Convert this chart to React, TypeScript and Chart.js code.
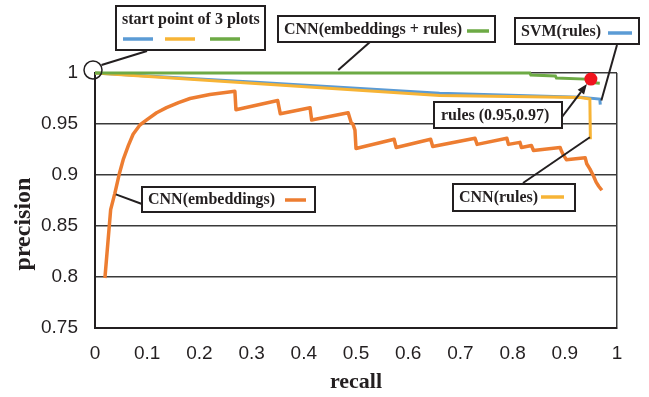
import React, { useEffect, useRef } from "react";
import { Chart, registerables } from "chart.js";

Chart.register(...registerables);

// ---- data ----
const xTickValues = [0, 0.1, 0.2, 0.3, 0.4, 0.5, 0.6, 0.7, 0.8, 0.9, 1];
const xTickLabels = ["0", "0.1", "0.2", "0.3", "0.4", "0.5", "0.6", "0.7", "0.8", "0.9", "1"];
const yTickValues = [0.75, 0.8, 0.85, 0.9, 0.95, 1];
const yTickLabels = ["0.75", "0.8", "0.85", "0.9", "0.95", "1"];

const cnnEmbRecall = [
  0.019, 0.030, 0.038, 0.047, 0.054, 0.064, 0.073, 0.086, 0.099, 0.118,
  0.137, 0.160, 0.182, 0.220, 0.268,
  0.270, 0.350, 0.355, 0.412, 0.415, 0.485, 0.491, 0.494, 0.498, 0.500,
  0.573, 0.577, 0.643, 0.647, 0.728, 0.732, 0.789, 0.792, 0.814, 0.817,
  0.836, 0.840, 0.891, 0.894, 0.897, 0.903, 0.939, 0.942, 0.948, 0.955,
  0.960, 0.965, 0.971,
];
const cnnEmbPrecision = [
  0.799, 0.866, 0.882, 0.902, 0.915, 0.929, 0.940, 0.949, 0.954, 0.961,
  0.966, 0.971, 0.975, 0.979, 0.982,
  0.964, 0.973, 0.960, 0.966, 0.954, 0.961, 0.951, 0.950, 0.944, 0.926,
  0.935, 0.927, 0.935, 0.928, 0.936, 0.930, 0.936, 0.930, 0.932, 0.927,
  0.929, 0.924, 0.927, 0.923, 0.920, 0.915, 0.917, 0.911, 0.906, 0.899,
  0.893, 0.889, 0.885,
];

const cnnEmbRulesRecall = [0, 0.833, 0.835, 0.882, 0.884, 0.94, 0.943, 0.967];
const cnnEmbRulesPrecision = [1, 1, 0.998, 0.997, 0.995, 0.994, 0.991, 0.99];

const svmRulesRecall = [0, 0.3, 0.66, 0.93, 0.967, 0.968];
const svmRulesPrecision = [1, 0.9912, 0.9802, 0.9762, 0.9745, 0.969];

const cnnRulesRecall = [0, 0.3, 0.66, 0.93, 0.948, 0.949];
const cnnRulesPrecision = [1, 0.99, 0.978, 0.976, 0.9745, 0.935];

const rulesPointRecall = [0.95];
const rulesPointPrecision = [0.994];

// ---- styles ----
const C_ORANGE = "#ED7D31";
const C_YELLOW = "#F7B436";
const C_GREEN = "#6DAA45";
const C_BLUE = "#5B9BD5";
const C_RED = "#F0141E";
const C_INK = "#231F20";
const C_GRID = "#3A3A3A";
const TICK_FONT = '"Liberation Sans Narrow", "Liberation Sans", Arial, sans-serif';
const SERIF = '"Liberation Serif", "Times New Roman", serif';

const pts = (xs: number[], ys: number[]) => xs.map((x, i) => ({ x, y: ys[i] }));

const annotations = {
  id: "annotations",
  afterDraw(chart: any) {
    const ctx = chart.ctx as CanvasRenderingContext2D;
    const xs = chart.scales.x;
    const ys = chart.scales.y;
    const X = (v: number) => xs.getPixelForValue(v);
    const Y = (v: number) => ys.getPixelForValue(v);

    const box = (x1: number, y1: number, x2: number, y2: number) => {
      ctx.save();
      ctx.fillStyle = "#ffffff";
      ctx.fillRect(x1, y1, x2 - x1, y2 - y1);
      ctx.lineWidth = 2;
      ctx.strokeStyle = C_INK;
      ctx.strokeRect(x1, y1, x2 - x1, y2 - y1);
      ctx.restore();
    };
    const text = (s: string, x: number, y: number) => {
      ctx.save();
      ctx.font = `bold 16px ${SERIF}`;
      ctx.fillStyle = C_INK;
      ctx.textAlign = "left";
      ctx.textBaseline = "middle";
      ctx.fillText(s, x, y);
      ctx.restore();
    };
    const seg = (x1: number, x2: number, y: number, color: string) => {
      ctx.save();
      ctx.strokeStyle = color;
      ctx.lineWidth = 3.5;
      ctx.beginPath();
      ctx.moveTo(x1, y);
      ctx.lineTo(x2, y);
      ctx.stroke();
      ctx.restore();
    };
    const line = (x1: number, y1: number, x2: number, y2: number) => {
      ctx.save();
      ctx.strokeStyle = C_INK;
      ctx.lineWidth = 2;
      ctx.beginPath();
      ctx.moveTo(x1, y1);
      ctx.lineTo(x2, y2);
      ctx.stroke();
      ctx.restore();
    };

    // y-axis title
    ctx.save();
    ctx.translate(24, 224);
    ctx.rotate(-Math.PI / 2);
    ctx.font = `bold 24px ${SERIF}`;
    ctx.fillStyle = C_INK;
    ctx.textAlign = "center";
    ctx.textBaseline = "middle";
    ctx.fillText("precision", 0, 0);
    ctx.restore();

    // start point circle + callout
    const ox = X(0);
    const oy = Y(1);
    ctx.save();
    ctx.strokeStyle = C_INK;
    ctx.lineWidth = 1.5;
    ctx.beginPath();
    ctx.arc(ox - 2, oy - 3, 9, 0, Math.PI * 2);
    ctx.stroke();
    ctx.restore();
    line(ox + 6.5, oy - 8, 147, 51);
    box(116, 6, 265, 50);
    text("start point of 3 plots", 122, 20);
    seg(123, 153, 39, C_BLUE);
    seg(165, 195, 39, C_YELLOW);
    seg(210, 240, 39, C_GREEN);

    // CNN(embeddings + rules)
    line(370, 42, X(0.466), Y(1) - 3);
    box(278, 16, 495, 42);
    text("CNN(embeddings + rules)", 284, 29.5);
    seg(467, 489, 31, C_GREEN);

    // SVM(rules)
    line(617, 45, X(0.97), Y(0.974) + 1);
    box(515, 18, 639, 44);
    text("SVM(rules)", 521, 31.5);
    seg(608, 632, 33, C_BLUE);

    // rules point arrow
    const tx = X(rulesPointRecall[0]) - 4;
    const ty = Y(rulesPointPrecision[0]) + 5;
    const sx = 562;
    const sy = 117;
    const ang = Math.atan2(ty - sy, tx - sx);
    const ah = 10;
    const hx = tx - ah * Math.cos(ang);
    const hy = ty - ah * Math.sin(ang);
    line(sx, sy, hx, hy);
    ctx.save();
    ctx.fillStyle = C_INK;
    ctx.beginPath();
    ctx.moveTo(tx, ty);
    ctx.lineTo(hx + 4 * Math.sin(ang), hy - 4 * Math.cos(ang));
    ctx.lineTo(hx - 4 * Math.sin(ang), hy + 4 * Math.cos(ang));
    ctx.closePath();
    ctx.fill();
    ctx.restore();
    box(434, 102, 562, 128);
    text("rules (0.95,0.97)", 441, 115.5);

    // CNN(rules)
    line(523, 183, X(0.948), Y(0.937));
    box(453, 184, 575, 211);
    text("CNN(rules)", 459, 197.5);
    seg(541, 564, 197, C_YELLOW);

    // CNN(embeddings)
    line(142, 204, X(0.038) + 1, Y(0.882) + 1);
    box(142, 187, 315, 212);
    text("CNN(embeddings)", 148, 199.5);
    seg(285, 306, 200, C_ORANGE);
  },
};

export default function App() {
  const ref = useRef<HTMLCanvasElement | null>(null);

  useEffect(() => {
    if (!ref.current) return;
    const chart = new Chart(ref.current, {
      type: "scatter",
      data: {
        datasets: [
          {
            label: "rules",
            data: pts(rulesPointRecall, rulesPointPrecision),
            showLine: false,
            pointRadius: 6.5,
            pointBackgroundColor: C_RED,
            pointBorderWidth: 0,
            clip: false,
          },
          {
            label: "CNN(embeddings + rules)",
            data: pts(cnnEmbRulesRecall, cnnEmbRulesPrecision),
            showLine: true,
            borderColor: C_GREEN,
            borderWidth: 3,
            pointRadius: 0,
            clip: false,
          },
          {
            label: "CNN(rules)",
            data: pts(cnnRulesRecall, cnnRulesPrecision),
            showLine: true,
            borderColor: C_YELLOW,
            borderWidth: 3,
            pointRadius: 0,
            clip: false,
          },
          {
            label: "SVM(rules)",
            data: pts(svmRulesRecall, svmRulesPrecision),
            showLine: true,
            borderColor: C_BLUE,
            borderWidth: 3,
            pointRadius: 0,
            clip: false,
          },
          {
            label: "CNN(embeddings)",
            data: pts(cnnEmbRecall, cnnEmbPrecision),
            showLine: true,
            borderColor: C_ORANGE,
            borderWidth: 3.5,
            borderJoinStyle: "round",
            pointRadius: 0,
            clip: false,
          },
        ],
      },
      options: {
        animation: false,
        responsive: false,
        devicePixelRatio: 1,
        layout: { padding: { left: 0, top: 73, right: 32, bottom: 0 } },
        plugins: {
          legend: { display: false },
          tooltip: { enabled: false },
        },
        scales: {
          x: {
            type: "linear",
            min: 0,
            max: 1,
            afterBuildTicks: (axis: any) => {
              axis.ticks = xTickValues.map((v) => ({ value: v }));
            },
            afterFit: (axis: any) => {
              axis.height = 69;
            },
            ticks: {
              autoSkip: false,
              maxRotation: 0,
              padding: 14,
              color: C_INK,
              font: { family: TICK_FONT, size: 19 },
              callback: (_v: any, i: number) => xTickLabels[i],
            },
            grid: {
              drawTicks: false,
              lineWidth: 1.5,
              color: (c: any) => (c.tick && c.tick.value === 1 ? C_GRID : "rgba(0,0,0,0)"),
            },
            border: { display: true, color: C_INK, width: 2 },
            title: {
              display: true,
              text: "recall",
              color: C_INK,
              font: { family: SERIF, size: 22, weight: "bold" },
              padding: { top: 0, bottom: 1 },
            },
          },
          y: {
            type: "linear",
            min: 0.75,
            max: 1,
            afterBuildTicks: (axis: any) => {
              axis.ticks = yTickValues.map((v) => ({ value: v }));
            },
            afterFit: (axis: any) => {
              axis.width = 95;
            },
            ticks: {
              autoSkip: false,
              padding: 17,
              color: C_INK,
              font: { family: TICK_FONT, size: 19 },
              callback: (_v: any, i: number) => yTickLabels[i],
            },
            grid: {
              drawTicks: false,
              lineWidth: 1.5,
              color: C_GRID,
            },
            border: { display: true, color: C_INK, width: 2 },
          },
        },
      } as any,
      plugins: [annotations],
    });
    return () => chart.destroy();
  }, []);

  return (
    <div style={{ position: "fixed", left: 0, top: 0, width: 649, height: 397, background: "#fff" }}>
      <canvas ref={ref} width={649} height={397} style={{ width: 649, height: 397, display: "block" }} />
    </div>
  );
}
